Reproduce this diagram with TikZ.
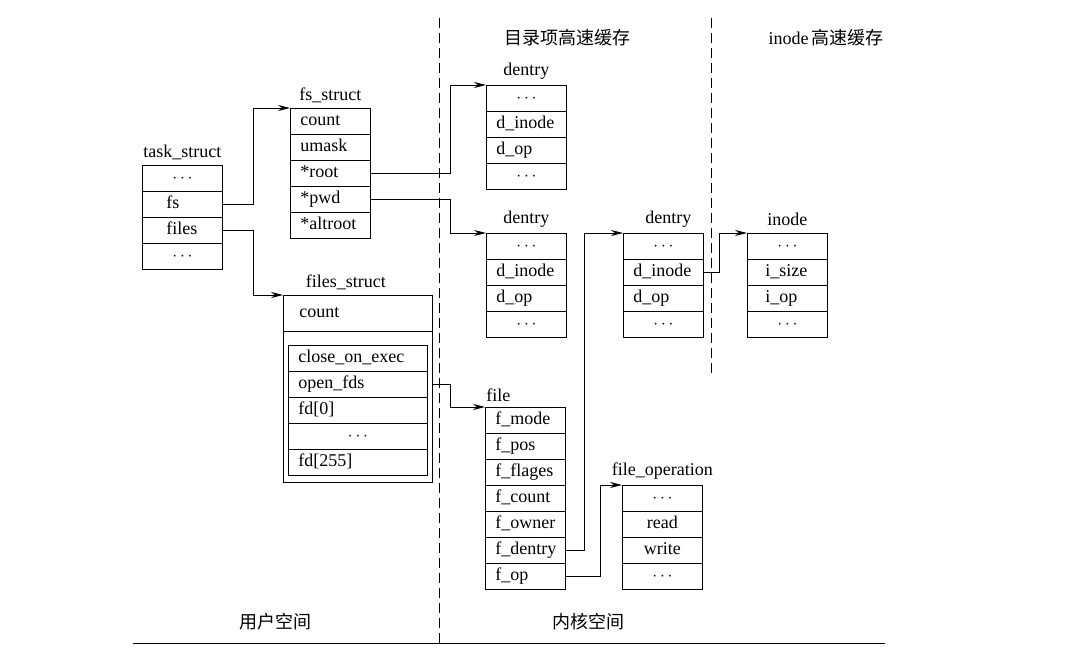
\documentclass[tikz,border=0pt]{standalone}
\usepackage{fontspec}
\setmainfont{Liberation Serif}
\newfontfamily\cjk{Noto Sans CJK SC}
\usetikzlibrary{arrows.meta,positioning}

\newcommand{\midtext}[1]{\makebox[\hsize]{#1}}
\newcommand{\dotsrow}{\midtext{$\cdots$}}
% one struct: name, x, y, extra style, rows
\newcommand{\structrows}[5]{%
  \foreach \txt [count=\i from 0] in {#5}
    \node[field,#4] (#1-\i) at (#2,{#3+26*\i}) {\txt};}

\begin{document}
\begin{tikzpicture}[x=1pt, y=-1pt, line width=0.9pt,
    font=\fontsize{18}{20}\selectfont,
    field/.style={draw, anchor=north west, minimum width=80pt, minimum height=26pt,
      inner xsep=10pt, inner ysep=5pt, text width=60pt, text height=12pt, text depth=4pt, align=left},
    title/.style={inner sep=1pt},
    ptr/.style={-{Stealth[length=12pt,width=6pt]}},
    sep/.style={dash pattern=on 10pt off 5pt}]
\useasboundingbox (0,0) rectangle (1084,663);

% user space
\structrows{ts}{142}{165}{inner xsep=24pt, text width=32pt}{\dotsrow, fs, files, \dotsrow}
\node[title, above=4pt of ts-0] (ts-t) {task\_struct};

\structrows{fs}{290}{108}{inner xsep=10pt}{count, umask, *root, *pwd, *altroot}
\node[title, above=4pt of fs-0] (fs-t) {fs\_struct};

\node[draw, anchor=north west, minimum width=149pt, minimum height=187pt] (fst) at (283,295) {};
\node[field, minimum width=149pt, minimum height=36pt, inner xsep=16pt, text width=117pt] (fst-0) at (283,295) {count};
\node[title, above=4pt of fst.north, xshift=-12pt] (fst-t) {files\_struct};
\structrows{fi}{288}{345}{minimum width=139pt, text width=119pt}{close\_on\_exec, open\_fds, fd[0], \dotsrow, fd[255]}

% kernel space
\structrows{da}{486}{85}{}{\dotsrow, d\_inode, d\_op, \dotsrow}
\node[title, above=4pt of da-0] (da-t) {dentry};
\structrows{db}{486}{233}{}{\dotsrow, d\_inode, d\_op, \dotsrow}
\node[title, above=4pt of db-0] (db-t) {dentry};
\structrows{dc}{623}{233}{}{\dotsrow, d\_inode, d\_op, \dotsrow}
\node[title, above=4pt of dc-0, xshift=5pt] (dc-t) {dentry};
\structrows{in}{747}{233}{inner xsep=18pt, text width=44pt}{\dotsrow, i\_size, i\_op, \dotsrow}
\node[title, above=6pt of in-0] (in-t) {inode};

\structrows{file}{485}{407}{}{f\_mode, f\_pos, f\_flages, f\_count, f\_owner, f\_dentry, f\_op}
\node[title, above right=4pt and 0pt of file-0.north west] (file-t) {file};
\structrows{fop}{622}{485}{}{\dotsrow, \midtext{read}, \midtext{write}, \dotsrow}
\node[title, above=4pt of fop-0] (fop-t) {file\_operation};

% pointers
\draw[ptr] (ts-1.east) -- ++(31,0) |- (fs-0.north west);
\draw[ptr] (ts-2.east) -- ++(31,0) |- (fst.north west);
\draw[ptr] (fs-2.east) -- ++(80,0) |- (da-0.north west);
\draw[ptr] (fs-3.east) -- ++(80,0) |- (db-0.north west);
\draw[ptr] (fi-1.east -| fst.east) -- ++(18,0) |- (file-0.north west);
\draw[ptr] (file-5.east) -- ++(19,0) |- (dc-0.north west);
\draw[ptr] (dc-1.east) -- ++(16,0) |- (in-0.north west);
\draw[ptr] (file-6.east) -- ++(35,0) |- (fop-0.north west);

% regions
\draw[sep] (439,18) -- (439,643);
\draw[sep] (711,18) -- (711,375);
\draw (133,643) -- (885,643);
\node (c-dir) at (567,38) {\cjk 目录项高速缓存};
\node (c-ino) at (826,38) {inode\,\cjk 高速缓存};
\node (c-usr) at (275,622) {\cjk 用户空间};
\node (c-krn) at (588,622) {\cjk 内核空间};
\end{tikzpicture}
\end{document}
